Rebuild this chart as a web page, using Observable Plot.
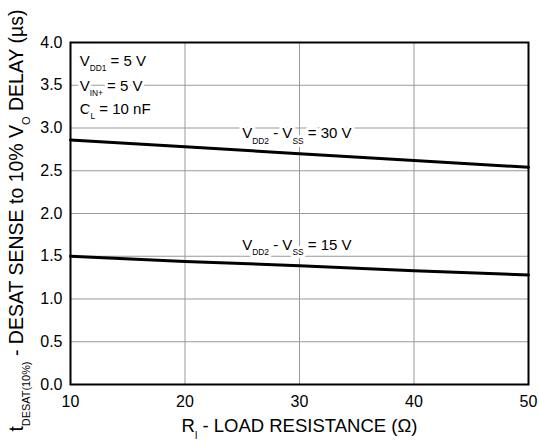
<!DOCTYPE html>
<html><head><meta charset="utf-8">
<script src="https://cdn.jsdelivr.net/npm/d3@7"></script>
<script src="https://cdn.jsdelivr.net/npm/@observablehq/plot@0.6"></script>
<style>body{margin:0;background:#fff;font-family:"Liberation Sans",Arial,sans-serif;}</style>
</head><body><div id="chart"></div>
<script>
const resistance = [10, 20, 30, 40, 50];
const delay30V = [2.86, 2.78, 2.70, 2.62, 2.54];
const delay15V = [1.50, 1.44, 1.39, 1.33, 1.28];
const xTicks = [10, 20, 30, 40, 50];
const yTicks = [0, 0.5, 1, 1.5, 2, 2.5, 3, 3.5, 4];
const curveLabels = [
  {x: 25, y: 2.935, text: "V_{DD2} - V_{SS} = 30 V"},
  {x: 25, y: 1.632, text: "V_{DD2} - V_{SS} = 15 V"}
];
const conditions = [
  {x: 10.8, y: 3.784, text: "V_{DD1} = 5 V"},
  {x: 10.8, y: 3.491, text: "V_{IN+} = 5 V"},
  {x: 10.8, y: 3.219, text: "C_{L} = 10 nF"}
];
const xTitle = "R_{l} - LOAD RESISTANCE (Ω)";
const yTitle = "t_{DESAT(10%)} - DESAT SENSE to 10% V_{O} DELAY (µs)";

const rows30 = resistance.map((r, i) => ({r, v: delay30V[i]}));
const rows15 = resistance.map((r, i) => ({r, v: delay15V[i]}));

const chart = Plot.plot({
  width: 539, height: 442,
  marginLeft: 70, marginRight: 11, marginTop: 42, marginBottom: 58,
  style: {fontFamily: "Liberation Sans, Arial, sans-serif", fontSize: "16px", background: "white", color: "black"},
  x: {domain: [10, 50], label: null},
  y: {domain: [0, 4], label: null},
  marks: [
    Plot.gridX(xTicks, {stroke: "#999", strokeOpacity: 1, strokeWidth: 1}),
    Plot.gridY(yTicks, {stroke: "#999", strokeOpacity: 1, strokeWidth: 1}),
    Plot.lineY(rows30, {x: "r", y: "v", stroke: "black", strokeWidth: 3}),
    Plot.lineY(rows15, {x: "r", y: "v", stroke: "black", strokeWidth: 3}),
    Plot.text(curveLabels, {x: "x", y: "y", text: "text", textAnchor: "start", lineAnchor: "middle", fontSize: 15, fill: "black", stroke: "white", strokeWidth: 6}),
    Plot.text(conditions, {x: "x", y: "y", text: "text", textAnchor: "start", lineAnchor: "middle", fontSize: 15, fill: "black", stroke: "white", strokeWidth: 6}),
    Plot.frame({stroke: "black", strokeWidth: 2}),
    Plot.axisX({ticks: xTicks, tickSize: 0, tickPadding: 11, fontSize: 16, label: null}),
    Plot.axisY({ticks: yTicks, tickSize: 0, tickPadding: 8, fontSize: 16, label: null, tickFormat: d3.format(".1f")}),
    Plot.text([xTitle], {frameAnchor: "bottom", textAnchor: "middle", lineAnchor: "middle", dy: 42, fontSize: 18.5, fill: "black"}),
    Plot.text([yTitle], {frameAnchor: "left", textAnchor: "middle", lineAnchor: "middle", rotate: -90, dx: -54, dy: 7, fontSize: 19.5, fill: "black"})
  ]
});
document.getElementById("chart").appendChild(chart);

// convert _{...} markup to subscripts
d3.select(chart).selectAll("text").each(function() {
  const el = d3.select(this);
  const t = this.textContent;
  if (!t.includes("_{")) return;
  const fs = parseFloat(getComputedStyle(this).fontSize);
  const sub = fs * 0.56, shift = fs * 0.36;
  el.text(null);
  const parts = t.split(/(_\{[^}]*\})/).filter(p => p);
  let shifted = false;
  parts.forEach(p => {
    if (p.startsWith("_{")) {
      el.append("tspan").attr("font-size", sub + "px").attr("dy", shifted ? 0 : shift).text(p.slice(2, -1));
      shifted = true;
    } else {
      el.append("tspan").attr("dy", shifted ? -shift : 0).text(p);
      shifted = false;
    }
  });
});
</script></body></html>
